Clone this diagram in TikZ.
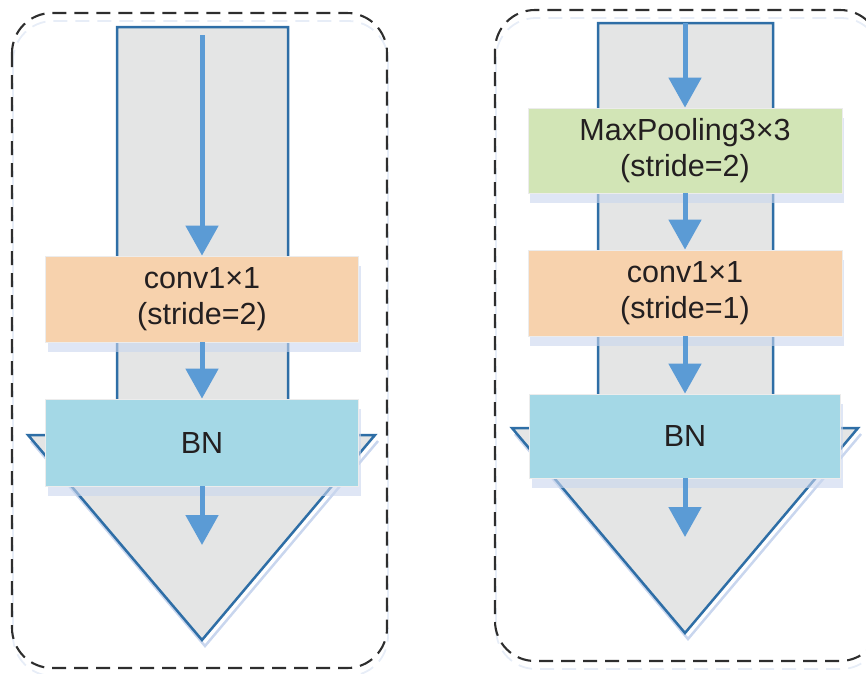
\documentclass[tikz,border=0pt]{standalone}
\usepackage{fontspec}
\setmainfont{Liberation Sans}
\usetikzlibrary{arrows.meta,shadows}
\definecolor{shaftgray}{HTML}{E4E5E5}
\definecolor{shaftblue}{HTML}{2E6EA6}
\definecolor{flowblue}{HTML}{5B9BD5}
\definecolor{convor}{HTML}{F7D2AD}
\definecolor{poolgr}{HTML}{D2E5B6}
\definecolor{bncyan}{HTML}{A4D8E6}
\definecolor{shadowblue}{HTML}{C9D6EE}
\definecolor{dashgray}{HTML}{2E2E2E}
\definecolor{txt}{HTML}{231F20}
\begin{document}
\begin{tikzpicture}[x=1pt,y=-1pt,
  layerbox/.style={rectangle, draw=white!85!gray, line width=0.8pt,
    minimum width=313pt, minimum height=86pt, inner sep=0pt, align=center,
    text=txt, font=\fontsize{30.5}{36}\selectfont,
    drop shadow={shadow xshift=2pt, shadow yshift=-10pt, fill=shadowblue, opacity=0.6}},
  flow/.style={-{Triangle[width=32pt,length=30pt]}, line width=5pt, draw=flowblue},
  bigarrow/.style={fill=shaftgray, draw=shaftblue, line width=2.5pt, line join=miter},
  arrowshadow/.style={draw=shadowblue, line width=2.5pt, line join=miter},
  panel/.style={draw=dashgray, dash pattern=on 14pt off 8pt, line width=2.1pt, rounded corners=40pt},
  panelshadow/.style={draw=shadowblue!45, dash pattern=on 14pt off 8pt, line width=1.8pt, rounded corners=40pt},
]
\useasboundingbox (0,0) rectangle (866,673);
\clip (0,0) rectangle (866,673);

% panels
\draw[panelshadow] (13,21) rectangle (388,676);
\draw[panel] (12,13) rectangle (387,668);
\draw[panelshadow] (496,18) rectangle (881,669);
\draw[panel] (495,10) rectangle (880,661);

% big arrows
\draw[arrowshadow] (378,441) -- (205,646) -- (31,441);
\path[bigarrow] (117,27) -- (288,27) -- (288,435) -- (375,435) -- (202,640) -- (28,435) -- (117,435) -- cycle;
\draw[arrowshadow] (861,434) -- (688,639) -- (515,434);
\path[bigarrow] (598,23) -- (773,23) -- (773,428) -- (858,428) -- (685,633) -- (512,428) -- (598,428) -- cycle;

% left column
\node[layerbox, fill=convor] (lconv) at (202,299) {conv1×1\\(stride=2)};
\node[layerbox, fill=bncyan, minimum height=87pt] (lbn) at (202,442.5) {BN};
\coordinate (lin) at (202,35);
\coordinate (lout) at (202,545);
\draw[flow] (lin) -- (lconv.north);
\draw[flow] (lconv.south) -- (lbn.north);
\draw[flow] (lbn.south) -- (lout);

% right column
\node[layerbox, fill=poolgr, minimum width=314pt, minimum height=85pt] (rpool) at (685,150.5) {MaxPooling3×3\\(stride=2)};
\node[layerbox, fill=convor, minimum width=314pt] (rconv) at (685,293) {conv1×1\\(stride=1)};
\node[layerbox, fill=bncyan, minimum width=311pt, minimum height=84pt] (rbn) at (685,436) {BN};
\coordinate (rin) at (685,23);
\coordinate (rout) at (685,537);
\draw[flow] (rin) -- (rpool.north);
\draw[flow] (rpool.south) -- (rconv.north);
\draw[flow] (rconv.south) -- (rbn.north);
\draw[flow] (rbn.south) -- (rout);
\end{tikzpicture}
\end{document}
